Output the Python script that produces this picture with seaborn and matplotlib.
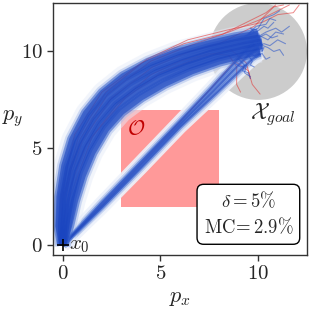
import numpy as np
import pandas as pd
import matplotlib
matplotlib.use('Agg')
import matplotlib.pyplot as plt
import seaborn as sns
from matplotlib.patches import Rectangle, Circle

# region geometry
OBSTACLE = (3.0, 2.0, 5.0, 5.0)   # x, y, width, height
GOAL_CENTER = (10.0, 10.0)
GOAL_RADIUS = 2.5

# upper band of trajectories (going round the obstacle), outer -> inner
UPPER_PATHS = [
    ([0, -0.2, -0.15, 0.1, 0.5, 1.2, 2.05, 3.1, 4.4, 5.8, 7.3, 8.8, 10.0],
     [0, 1.0, 2.5, 4.1, 5.45, 6.8, 7.85, 8.7, 9.4, 9.95, 10.35, 10.7, 10.9]),
    ([0, -0.08, 0.02, 0.3, 0.75, 1.45, 2.3, 3.35, 4.6, 6.0, 7.5, 9.0, 10.1],
     [0, 1.0, 2.5, 4.0, 5.3, 6.6, 7.6, 8.45, 9.15, 9.7, 10.15, 10.5, 10.7]),
    ([0, 0.05, 0.2, 0.5, 1.0, 1.7, 2.55, 3.6, 4.8, 6.2, 7.7, 9.2, 10.2],
     [0, 1.0, 2.5, 3.9, 5.15, 6.4, 7.4, 8.2, 8.9, 9.45, 9.95, 10.3, 10.5]),
    ([0, 0.15, 0.4, 0.75, 1.25, 1.95, 2.8, 3.8, 5.0, 6.4, 7.9, 9.3, 10.2],
     [0, 1.0, 2.4, 3.8, 5.0, 6.2, 7.2, 7.95, 8.65, 9.25, 9.75, 10.1, 10.3]),
    ([0, 0.3, 0.6, 1.0, 1.5, 2.2, 3.0, 4.0, 5.2, 6.6, 8.0, 9.4, 10.1],
     [0, 1.0, 2.3, 3.6, 4.8, 6.0, 6.9, 7.65, 8.35, 9.0, 9.5, 9.85, 10.0]),
]

# lower band (straight through the diagonal gap)
LOWER_PATHS = [
    ([0, 2, 4, 6, 7.6, 8.6, 9.3, 9.8], [0, 2.2, 4.3, 6.4, 8.1, 9.2, 10.0, 10.4]),
    ([0, 2, 4, 6, 7.7, 8.8, 9.5, 10.0], [0, 2.05, 4.15, 6.25, 7.95, 9.1, 9.8, 10.2]),
    ([0, 2, 4, 6, 7.8, 9.0, 9.7, 10.1], [0, 1.95, 4.0, 6.1, 7.8, 8.95, 9.6, 9.9]),
]

# scattered ends of the trajectories inside the goal set
GOAL_TAILS = [
    ([9.4, 9.9, 10.3, 10.5, 10.8], [10.8, 11.0, 11.3, 11.2, 11.5]),
    ([9.4, 9.8, 10.4, 10.7, 11.0], [10.5, 10.6, 10.9, 10.7, 10.8]),
    ([9.6, 9.9, 10.0, 10.3, 10.2], [10.3, 10.5, 10.1, 10.2, 10.0]),
    ([9.3, 9.5, 9.7, 9.6, 9.8], [10.0, 9.8, 9.5, 9.3, 9.2]),
    ([9.5, 9.9, 10.4, 10.6, 10.9], [10.9, 11.3, 11.4, 11.7, 11.6]),
    ([9.8, 10.3, 10.6, 11.0, 11.4], [10.2, 10.4, 10.3, 10.6, 10.4]),
    ([9.6, 9.9, 10.2, 10.4, 10.6], [9.9, 9.7, 9.9, 9.6, 9.7]),
    ([9.2, 9.5, 9.8, 9.6, 9.9], [10.7, 10.9, 11.0, 11.2, 11.1]),
    ([9.7, 10.1, 10.5, 10.9, 11.3], [10.6, 10.8, 10.6, 11.0, 10.9]),
    ([9.0, 9.3, 9.2, 9.5, 9.6], [9.6, 9.3, 9.0, 8.9, 8.6]),
    ([9.9, 10.4, 10.9, 11.2, 11.6], [10.7, 11.0, 11.2, 11.0, 11.3]),
    ([10.0, 10.5, 10.8, 11.1, 11.3], [10.4, 10.2, 10.0, 10.1, 9.8]),
    ([9.6, 10.0, 10.3, 10.8, 11.1], [11.0, 11.2, 11.7, 11.9, 12.1]),
    ([8.8, 9.1, 9.4, 9.3, 9.6], [9.4, 9.2, 9.3, 8.9, 8.7]),
]

# failed (unsafe) trajectories
RED_PATHS = [
    ([0, 0.0, 0.9, 2.3, 4.5, 6.5, 8.5, 10.0, 11.2, 11.6],
     [0, 2.5, 5.5, 7.8, 9.5, 10.3, 11.0, 11.6, 12.2, 12.4]),
    ([0, 0.2, 1.2, 2.8, 4.5, 6.0, 7.5, 8.5, 8.9, 8.9, 9.1],
     [0, 2.5, 5.2, 7.3, 8.8, 9.5, 9.9, 9.8, 9.2, 8.3, 7.9]),
    ([0, 4.0, 7.5, 8.8, 9.5, 9.7, 10.1],
     [0, 4.2, 8.0, 9.5, 9.0, 8.3, 7.8]),
    ([0, 0.1, 1.0, 2.5, 4.6, 6.5, 8.0, 9.8, 10.8, 11.3],
     [0, 2.6, 5.4, 7.6, 9.2, 10.0, 10.4, 11.3, 12.3, 12.4]),
    ([0, 0.3, 1.5, 3.2, 5.0, 7.0, 8.6, 9.4, 9.6],
     [0, 2.3, 5.6, 7.6, 8.9, 9.7, 10.1, 9.4, 8.6]),
    ([0, -0.1, 0.6, 2.0, 4.0, 6.2, 8.2, 9.6, 10.4, 10.9],
     [0, 2.4, 5.7, 7.9, 9.4, 10.4, 10.9, 11.6, 12.0, 12.4]),
    ([0, 0.0, 0.8, 2.2, 4.3, 6.4, 8.4, 10.2, 11.0, 11.8, 12.1],
     [0, 2.5, 5.6, 7.9, 9.6, 10.6, 11.1, 11.5, 11.9, 12.0, 12.4]),
]

sns.set_style('ticks')
plt.rcParams['font.family'] = 'serif'
plt.rcParams['font.serif'] = ['cmr10', 'DejaVu Serif']
plt.rcParams['mathtext.fontset'] = 'cm'
plt.rcParams['axes.formatter.use_mathtext'] = True

fig = plt.figure(figsize=(3.09, 3.19), dpi=100)
ax = fig.add_axes([53 / 309, 64 / 319, 254 / 309, 252 / 319])

ax.add_patch(Circle(GOAL_CENTER, GOAL_RADIUS, color='gray', alpha=0.4, lw=0, zorder=1))
ax.add_patch(Rectangle(OBSTACLE[:2], OBSTACLE[2], OBSTACLE[3], color='red', alpha=0.4, lw=0, zorder=1))


def draw_band(paths, layers):
    for lw, color, alpha in layers:
        for xs, ys in paths:
            sns.lineplot(x=xs, y=ys, sort=False, estimator=None, ax=ax, lw=lw,
                         color=color, alpha=alpha, solid_capstyle='butt')


# pale halo first, failed runs on top of it, dense core last
draw_band(LOWER_PATHS, [(10, '#eef2fb', 0.9), (6, '#a9bdea', 0.6)])
draw_band(UPPER_PATHS, [(16, '#e6ecf9', 0.5), (11, '#a9bdea', 0.5)])

for xs, ys in RED_PATHS:
    sns.lineplot(x=xs, y=ys, sort=False, estimator=None, ax=ax, lw=0.7,
                 color='#e03a3a', alpha=0.6)

draw_band(LOWER_PATHS, [(3.5, '#4b73d4', 0.55), (1.5, '#2149c0', 0.6)])
draw_band(UPPER_PATHS, [(8, '#3560cc', 0.55), (5, '#1a45c0', 0.6)])

for xs, ys in GOAL_TAILS:
    sns.lineplot(x=xs, y=ys, sort=False, estimator=None, ax=ax, lw=0.8,
                 color='#2450c8', alpha=0.55)

ax.plot(0, 0, marker='+', color='black', ms=8, mew=1.2, zorder=5)
ax.text(0.3, -0.05, '$x_0$', fontsize=15, va='center', ha='left')
ax.text(3.75, 5.95, r'$\mathcal{O}$', fontsize=15, color='#c00000', ha='center', va='center')
ax.text(10.75, 6.75, r'$\mathcal{X}_{goal}$', fontsize=16, ha='center', va='center')
ax.text(9.5, 1.6, '$\\delta = 5\\%$\n$\\mathrm{MC}\\!= 2.9\\%$', fontsize=13.5,
        ha='center', va='center', linespacing=1.35,
        bbox=dict(boxstyle='round,pad=0.35', fc='white', ec='black', lw=1))

ax.set_xlim(-0.5, 12.5)
ax.set_ylim(-0.5, 12.5)
ax.set_xticks([0, 5, 10])
ax.set_yticks([0, 5, 10])
ax.tick_params(labelsize=15, length=4, width=1, color='#333333')
ax.set_xlabel('$p_x$', fontsize=16)
ax.set_ylabel('$p_y$', fontsize=16, rotation=0, ha='center', va='center')
ax.yaxis.set_label_coords(-0.16, 0.54)
for s in ax.spines.values():
    s.set_color('#333333')
    s.set_linewidth(1)

fig.savefig('out.png', dpi=100)
